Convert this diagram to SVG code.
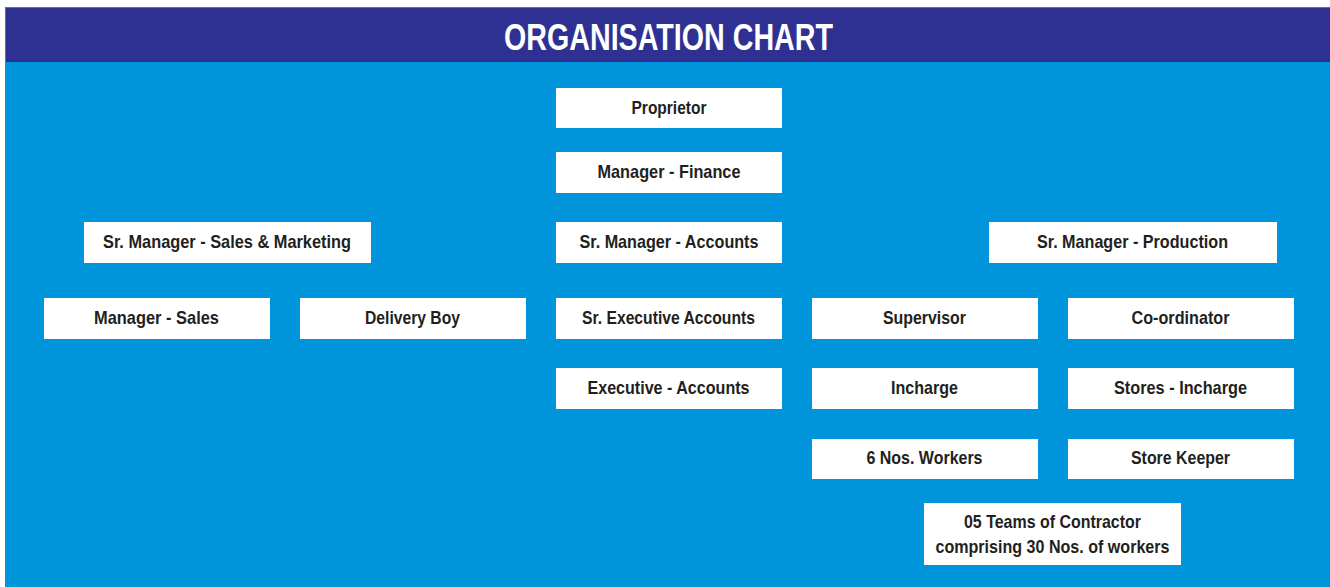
<svg xmlns="http://www.w3.org/2000/svg" width="1330" height="587" viewBox="0 0 1330 587">
<style>
.box{fill:#ffffff;}
.lbl{font-family:"Liberation Sans",Arial,sans-serif;font-weight:bold;font-size:19px;fill:#231f20;text-anchor:middle;}
.title{font-family:"Liberation Sans",Arial,sans-serif;font-weight:bold;font-size:37px;fill:#ffffff;text-anchor:middle;}
</style>
<rect x="0" y="0" width="1330" height="587" fill="#ffffff"/>
<rect x="5" y="7" width="1325" height="580" fill="#0094da"/>
<rect x="6" y="8" width="1324" height="54" fill="#2e3192"/>
<text class="title" x="668.5" y="50" textLength="329" lengthAdjust="spacingAndGlyphs">ORGANISATION CHART</text>
<g id="connectors"></g>
<g id="proprietor"><rect class="box" x="556" y="88" width="226" height="40"/><text class="lbl" x="669" y="113.5" textLength="75" lengthAdjust="spacingAndGlyphs">Proprietor</text></g>
<g id="manager-finance"><rect class="box" x="556" y="152" width="226" height="41"/><text class="lbl" x="669" y="177.5" textLength="143" lengthAdjust="spacingAndGlyphs">Manager - Finance</text></g>
<g id="sr-manager-sales-marketing"><rect class="box" x="84" y="222" width="287" height="41"/><text class="lbl" x="227" y="247.5" textLength="248" lengthAdjust="spacingAndGlyphs">Sr. Manager - Sales &amp; Marketing</text></g>
<g id="sr-manager-accounts"><rect class="box" x="556" y="222" width="226" height="41"/><text class="lbl" x="669" y="247.5" textLength="179" lengthAdjust="spacingAndGlyphs">Sr. Manager - Accounts</text></g>
<g id="sr-manager-production"><rect class="box" x="989" y="222" width="288" height="41"/><text class="lbl" x="1132.5" y="247.5" textLength="191" lengthAdjust="spacingAndGlyphs">Sr. Manager - Production</text></g>
<g id="manager-sales"><rect class="box" x="44" y="298" width="226" height="41"/><text class="lbl" x="156.5" y="323.5" textLength="125" lengthAdjust="spacingAndGlyphs">Manager - Sales</text></g>
<g id="delivery-boy"><rect class="box" x="300" y="298" width="226" height="41"/><text class="lbl" x="412.5" y="323.5" textLength="95" lengthAdjust="spacingAndGlyphs">Delivery Boy</text></g>
<g id="sr-executive-accounts"><rect class="box" x="556" y="298" width="226" height="41"/><text class="lbl" x="668.5" y="323.5" textLength="173" lengthAdjust="spacingAndGlyphs">Sr. Executive Accounts</text></g>
<g id="supervisor"><rect class="box" x="812" y="298" width="226" height="41"/><text class="lbl" x="924.5" y="323.5" textLength="83" lengthAdjust="spacingAndGlyphs">Supervisor</text></g>
<g id="co-ordinator"><rect class="box" x="1068" y="298" width="226" height="41"/><text class="lbl" x="1180.5" y="323.5" textLength="98" lengthAdjust="spacingAndGlyphs">Co-ordinator</text></g>
<g id="executive-accounts"><rect class="box" x="556" y="368" width="226" height="41"/><text class="lbl" x="668.5" y="393.5" textLength="162" lengthAdjust="spacingAndGlyphs">Executive - Accounts</text></g>
<g id="incharge"><rect class="box" x="812" y="368" width="226" height="41"/><text class="lbl" x="924.5" y="393.5" textLength="67" lengthAdjust="spacingAndGlyphs">Incharge</text></g>
<g id="stores-incharge"><rect class="box" x="1068" y="368" width="226" height="41"/><text class="lbl" x="1180.5" y="393.5" textLength="133" lengthAdjust="spacingAndGlyphs">Stores - Incharge</text></g>
<g id="workers"><rect class="box" x="812" y="439" width="226" height="40"/><text class="lbl" x="924.5" y="464" textLength="116" lengthAdjust="spacingAndGlyphs">6 Nos. Workers</text></g>
<g id="store-keeper"><rect class="box" x="1068" y="439" width="226" height="40"/><text class="lbl" x="1180.5" y="464" textLength="99" lengthAdjust="spacingAndGlyphs">Store Keeper</text></g>
<g id="contractor"><rect class="box" x="924" y="503" width="257" height="62"/><text class="lbl" x="1052.5" y="527.5" textLength="177" lengthAdjust="spacingAndGlyphs">05 Teams of Contractor</text><text class="lbl" x="1052.5" y="552.5" textLength="234" lengthAdjust="spacingAndGlyphs">comprising 30 Nos. of workers</text></g>
</svg>
